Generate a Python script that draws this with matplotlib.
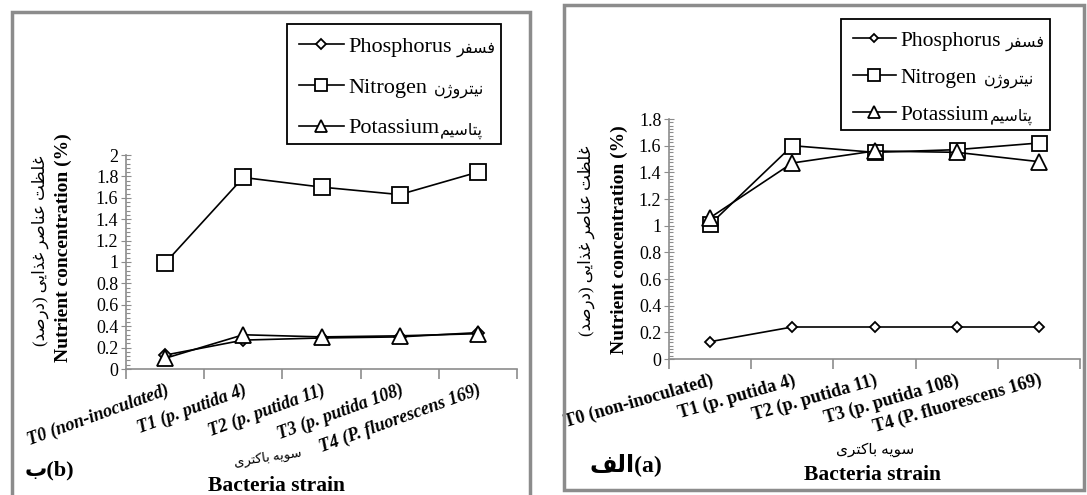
import matplotlib
matplotlib.use('Agg')
import matplotlib.pyplot as plt
from matplotlib.patches import Rectangle
from matplotlib.ticker import MultipleLocator, FuncFormatter

plt.rcParams['font.family'] = ['Liberation Serif', 'DejaVu Sans']

strains = ['T0 (non-inoculated)', 'T1 (p. putida 4)', 'T2 (p. putida 11)',
           'T3 (p. putida 108)', 'T4 (P. fluorescens 169)']
nutrients = ['Phosphorus', 'Nitrogen', 'Potassium']
nutrients_fa = ['فسفر', 'نیتروژن', 'پتاسیم']

# panel (b), left
phosphorus_b = [0.13, 0.27, 0.29, 0.30, 0.34]
nitrogen_b = [0.99, 1.79, 1.70, 1.63, 1.84]
potassium_b = [0.10, 0.32, 0.30, 0.31, 0.33]

# panel (a), right
phosphorus_a = [0.13, 0.24, 0.24, 0.24, 0.24]
nitrogen_a = [1.01, 1.60, 1.55, 1.57, 1.62]
potassium_a = [1.06, 1.47, 1.56, 1.55, 1.48]

# arabic-script joining forms: isolated, final, initial, medial
FORMS = {
    'ا': ('\uFE8D', '\uFE8E', None, None),
    'ب': ('\uFE8F', '\uFE90', '\uFE91', '\uFE92'),
    'پ': ('\uFB56', '\uFB57', '\uFB58', '\uFB59'),
    'ت': ('\uFE95', '\uFE96', '\uFE97', '\uFE98'),
    'د': ('\uFEA9', '\uFEAA', None, None),
    'ذ': ('\uFEAB', '\uFEAC', None, None),
    'ر': ('\uFEAD', '\uFEAE', None, None),
    'ژ': ('\uFB8A', '\uFB8B', None, None),
    'س': ('\uFEB1', '\uFEB2', '\uFEB3', '\uFEB4'),
    'ص': ('\uFEB9', '\uFEBA', '\uFEBB', '\uFEBC'),
    'ظ': ('\uFEC5', '\uFEC6', '\uFEC7', '\uFEC8'),
    'ع': ('\uFEC9', '\uFECA', '\uFECB', '\uFECC'),
    'غ': ('\uFECD', '\uFECE', '\uFECF', '\uFED0'),
    'ف': ('\uFED1', '\uFED2', '\uFED3', '\uFED4'),
    'ک': ('\uFB8E', '\uFB8F', '\uFB90', '\uFB91'),
    'ل': ('\uFEDD', '\uFEDE', '\uFEDF', '\uFEE0'),
    'م': ('\uFEE1', '\uFEE2', '\uFEE3', '\uFEE4'),
    'ن': ('\uFEE5', '\uFEE6', '\uFEE7', '\uFEE8'),
    'ه': ('\uFEE9', '\uFEEA', '\uFEEB', '\uFEEC'),
    'و': ('\uFEED', '\uFEEE', None, None),
    'ی': ('\uFBFC', '\uFBFD', '\uFBFE', '\uFBFF'),
}


def persian(s):
    # shape letters and reverse to visual order (matplotlib has no bidi)
    out = []
    for i, ch in enumerate(s):
        if ch not in FORMS:
            out.append({'(': ')', ')': '('}.get(ch, ch))
            continue
        prev = s[i - 1] if i > 0 else ''
        nxt = s[i + 1] if i + 1 < len(s) else ''
        jp = prev in FORMS and FORMS[prev][2] is not None
        jn = FORMS[ch][2] is not None and nxt in FORMS
        f = FORMS[ch]
        out.append(f[3] if jp and jn else f[1] if jp else f[2] if jn else f[0])
    return ''.join(reversed(out))


W, H = 1087, 495
fig = plt.figure(figsize=(W / 100, H / 100), dpi=100)
grey = '#8c8c8c'


def px_box(x0, y0, x1, y1):
    return [x0 / W, 1 - y1 / H, (x1 - x0) / W, (y1 - y0) / H]


def px(x, y):
    return x / W, 1 - y / H


# grey frames around the two panels
for (x0, y0, x1, y1) in [(12, 12, 530, 520), (564, 5, 1084, 490)]:
    fig.patches.append(Rectangle((x0 / W, 1 - y1 / H), (x1 - x0) / W, (y1 - y0) / H,
                                 transform=fig.transFigure, fill=False,
                                 edgecolor=grey, lw=2.5))


def draw_panel(ax, series, ymax, minor, italic, rot, tsize, ms):
    x = list(range(len(series[0])))
    kw = dict(color='black', lw=1.2, mfc='white', mec='black', mew=1.3)
    for vals, name, m, s in zip(series, nutrients, ['D', 's', '^'], ms):
        ax.plot(x, vals, marker=m, ms=s, label=name, **kw)
    ax.set_xlim(-0.5, len(x) - 0.5)
    ax.set_ylim(0, ymax)
    for s in ['top', 'right']:
        ax.spines[s].set_visible(False)
    for s in ['left', 'bottom']:
        ax.spines[s].set_color(grey)
        ax.spines[s].set_linewidth(1.2)
    ax.yaxis.set_major_locator(MultipleLocator(0.2))
    ax.yaxis.set_minor_locator(MultipleLocator(minor))
    ax.yaxis.set_major_formatter(FuncFormatter(lambda v, _: '%g' % round(v, 2)))
    ax.tick_params(axis='y', which='major', direction='inout', length=7, color=grey,
                   labelsize=13, pad=2)
    ax.tick_params(axis='y', which='minor', direction='in', length=3, color=grey, width=0.8)
    ax.set_xticks(x)
    ax.set_xticks([v - 0.5 for v in x] + [len(x) - 0.5], minor=True)
    ax.tick_params(axis='x', which='major', length=0, pad=9)
    ax.tick_params(axis='x', which='minor', direction='out', length=7, color=grey, width=1.2)
    ax.set_xticklabels(strains, rotation=rot, ha='right', rotation_mode='anchor',
                       fontsize=tsize, fontweight='bold',
                       fontstyle='italic' if italic else 'normal')


ax_b = fig.add_axes(px_box(126, 155, 517, 369))
draw_panel(ax_b, [phosphorus_b, nitrogen_b, potassium_b], 2.0, 0.04, True, 20, 13,
           [6, 11.5, 11])
ax_a = fig.add_axes(px_box(669, 119, 1080, 359))
draw_panel(ax_a, [phosphorus_a, nitrogen_a, potassium_a], 1.8, 0.025, False, 16, 13.1,
           [5, 10.8, 11])

legends = []
for ax, (lx, ly), fs, sp in [(ax_b, (287, 24), 16, 0.91), (ax_a, (841, 19), 15.5, 0.78)]:
    leg = ax.legend(loc='upper left', bbox_to_anchor=px(lx, ly), bbox_transform=fig.transFigure,
                    borderaxespad=0, fontsize=fs, frameon=False,
                    handlelength=2.0, handletextpad=0.2, labelspacing=sp,
                    borderpad=0.55, markerscale=0.8)
    legends.append(leg)

# persian halves of the legend labels, then a frame around each legend
fig.canvas.draw()
renderer = fig.canvas.get_renderer()
to_fig = fig.transFigure.inverted()
gaps = [5, 7, 1]
for leg in legends:
    right = 0
    low = None
    for t, fa, g in zip(leg.get_texts(), nutrients_fa, gaps):
        bb = t.get_window_extent(renderer)
        cy = (bb.y0 + bb.y1) / 2
        fx, fy = to_fig.transform((bb.x1 + g, cy - 2))
        ft = fig.text(fx, fy, persian(fa), ha='left', va='center', fontsize=11.5)
        right = max(right, ft.get_window_extent(renderer).x1)
        low = cy
    lb = leg.get_window_extent(renderer)
    (x0, y0), (x1, y1) = to_fig.transform([(lb.x0, low - 15), (right + 5, lb.y1)])
    fig.patches.append(Rectangle((x0, y0), x1 - x0, y1 - y0, transform=fig.transFigure,
                                 fill=False, edgecolor='black', lw=1.3))

# axis titles
ylab_fa = persian('غلظت عناصر غذایی (درصد)')
fig.text(*px(63, 248), 'Nutrient concentration (%)', rotation=90, ha='center', va='center',
         fontsize=14, fontweight='bold')
fig.text(*px(40, 251), ylab_fa, rotation=90, ha='center', va='center', fontsize=12)
fig.text(*px(619, 240), 'Nutrient concentration (%)', rotation=90, ha='center', va='center',
         fontsize=14, fontweight='bold')
fig.text(*px(586, 241), ylab_fa, rotation=90, ha='center', va='center', fontsize=12)

xlab_fa = persian('سویه باکتری')
fig.text(*px(268, 458), xlab_fa, rotation=8, ha='center', va='center', fontsize=9.5)
fig.text(*px(875, 450), xlab_fa, ha='center', va='center', fontsize=11)
fig.text(*px(277, 486), 'Bacteria strain', ha='center', va='center', fontsize=15.5,
         fontweight='bold')
fig.text(*px(872, 475), 'Bacteria strain', ha='center', va='center', fontsize=15.5,
         fontweight='bold')

fig.text(*px(49, 470), persian('ب') + '(b)', ha='center', va='center', fontsize=16,
         fontweight='bold')
fig.text(*px(626, 465), persian('الف') + '(a)', ha='center', va='center', fontsize=17,
         fontweight='bold')

fig.savefig('out.png', dpi=100)
